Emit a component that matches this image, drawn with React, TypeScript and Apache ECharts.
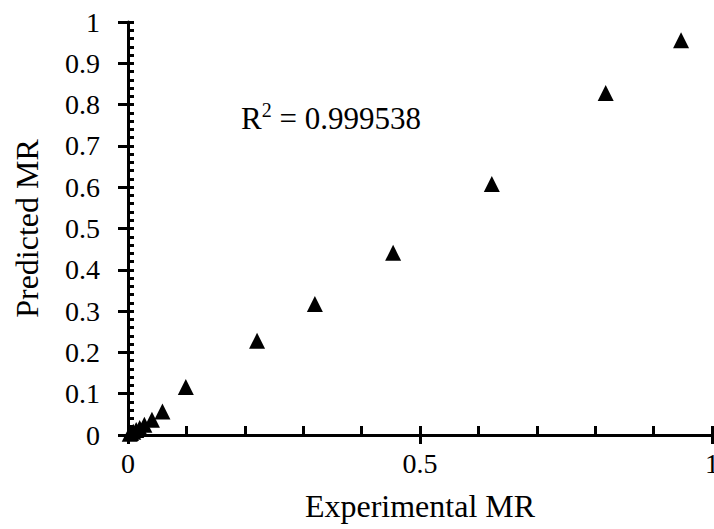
import React, { useEffect, useRef } from "react";
import * as echarts from "echarts";

const experimentalMR = [0.947, 0.818, 0.623, 0.454, 0.32, 0.221, 0.099, 0.059, 0.041, 0.028, 0.02, 0.014, 0.009, 0.005, 0.003];
const predictedMR = [0.956, 0.828, 0.608, 0.441, 0.317, 0.228, 0.116, 0.057, 0.037, 0.025, 0.017, 0.012, 0.008, 0.005, 0.003];
const rSquaredText = "0.999538";
const xAxisTitle = "Experimental MR";
const yAxisTitle = "Predicted MR";

const FONT = "'Liberation Serif', 'Times New Roman', serif";

export default function App() {
  const ref = useRef<HTMLDivElement>(null);
  useEffect(() => {
    if (!ref.current) return;
    const chart = echarts.init(ref.current, undefined, { renderer: "svg" });
    const points = experimentalMR.map((x, i) => [x, predictedMR[i]]);
    const lineStyle = { color: "#000", width: 3 };
    chart.setOption({
      animation: false,
      backgroundColor: "#fff",
      grid: { left: 128, right: 2, top: 22, bottom: 94, containLabel: false, outerBoundsMode: "none" },
      xAxis: [
        {
          type: "value", min: 0, max: 1, interval: 0.5, position: "bottom",
          axisLine: { show: true, lineStyle },
          axisTick: { show: true, length: 9, lineStyle },
          axisLabel: { fontSize: 28, fontFamily: FONT, color: "#000", margin: 14 },
          splitLine: { show: false },
          name: xAxisTitle, nameLocation: "middle", nameGap: 55,
          nameTextStyle: { fontSize: 32, fontFamily: FONT, color: "#000" },
        },
        {
          type: "value", min: 0, max: 1, interval: 0.1, position: "bottom",
          axisLine: { show: false },
          axisTick: { show: true, inside: true, length: 9, lineStyle },
          axisLabel: { show: false },
          splitLine: { show: false },
        },
      ],
      yAxis: [
        {
          type: "value", min: 0, max: 1, interval: 0.1, position: "left",
          axisLine: { show: true, lineStyle },
          axisTick: { show: true, length: 10, lineStyle },
          axisLabel: { fontSize: 28, fontFamily: FONT, color: "#000", margin: 28 },
          splitLine: { show: false },
          name: yAxisTitle, nameLocation: "middle", nameGap: 85, nameRotate: 90,
          nameTextStyle: { fontSize: 32, fontFamily: FONT, color: "#000" },
        },
        {
          type: "value", min: 0, max: 1, interval: 0.02, position: "left",
          axisLine: { show: false },
          axisTick: { show: true, inside: true, length: 6, lineStyle },
          axisLabel: { show: false },
          splitLine: { show: false },
        },
      ],
      graphic: [
        {
          type: "text",
          left: 241,
          top: 100,
          style: {
            text: "{r|R}{s|2}{r| = " + rSquaredText + "}",
            rich: {
              r: { fontSize: 31, fontFamily: FONT, fill: "#000", lineHeight: 34, verticalAlign: "bottom" },
              s: { fontSize: 20, fontFamily: FONT, fill: "#000", lineHeight: 20, verticalAlign: "top" },
            },
          },
        },
      ],
      series: [
        {
          type: "scatter",
          xAxisIndex: 0,
          yAxisIndex: 0,
          symbol: "triangle",
          symbolSize: 16,
          itemStyle: { color: "#000", opacity: 1 },
          data: points,
        },
      ],
    });
    return () => chart.dispose();
  }, []);
  return (
    <div style={{ position: "fixed", left: 0, top: 0, width: 714, height: 529, overflow: "hidden" }}>
      <div ref={ref} style={{ width: 714, height: 529 }} />
    </div>
  );
}
